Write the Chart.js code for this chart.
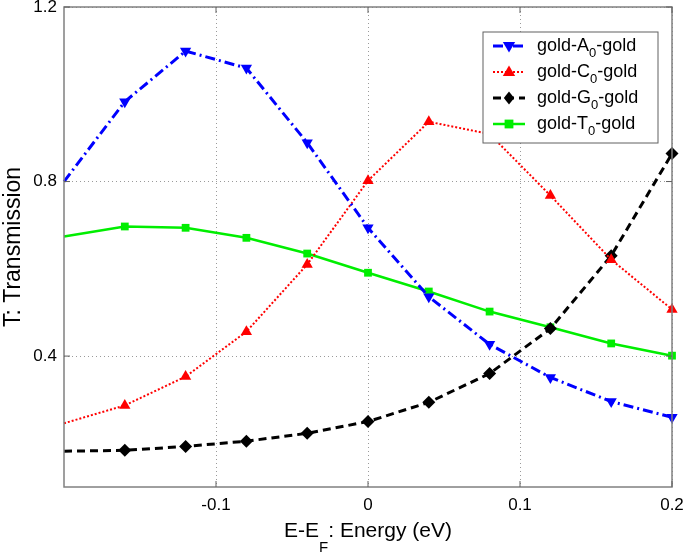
<!DOCTYPE html>
<html lang="en">
<head>
    <meta charset="UTF-8">
    <title>Transmission vs Energy</title>
    <script src="https://cdn.jsdelivr.net/npm/chart.js"></script>
    <style>
        body {
            margin: 0;
            padding: 0;
            background: #fff;
        }
        #chart {
            display: block;
        }
    </style>
</head>
<body>
    <canvas id="chart" width="685" height="554"></canvas>

    <script>
        // energy points (eV)
        const energy = [-0.2, -0.16, -0.12, -0.08, -0.04, 0, 0.04, 0.08, 0.12, 0.16, 0.2];

        const goldA0 = [0.80, 0.983, 1.099, 1.06, 0.889, 0.694, 0.536, 0.427, 0.351, 0.296, 0.26];
        const goldC0 = [0.246, 0.287, 0.353, 0.456, 0.610, 0.802, 0.937, 0.909, 0.768, 0.621, 0.507];
        const goldG0 = [0.182, 0.184, 0.193, 0.205, 0.223, 0.250, 0.294, 0.360, 0.463, 0.630, 0.864];
        const goldT0 = [0.674, 0.697, 0.694, 0.671, 0.635, 0.591, 0.548, 0.502, 0.466, 0.429, 0.401];

        const xTicks = [-0.1, 0, 0.1, 0.2];
        const yTicks = [0.4, 0.8, 1.2];

        const FONT = '"Liberation Sans", Arial, Helvetica, sans-serif';

        function pts(ys) {
            return energy.map((x, i) => ({ x: x, y: ys[i] }));
        }
        // first point has no marker
        function radii(r) {
            return energy.map((x, i) => i === 0 ? 0 : r);
        }

        const series = [
            { base: 'gold-A', label: 'gold-A0-gold', data: goldA0, color: '#0000ff', dash: [10, 4, 2, 4], width: 3, style: 'triangle', rot: 180, r: 6.5 },
            { base: 'gold-C', label: 'gold-C0-gold', data: goldC0, color: '#ff0000', dash: [2, 2], width: 2, style: 'triangle', rot: 0, r: 6.5 },
            { base: 'gold-G', label: 'gold-G0-gold', data: goldG0, color: '#000000', dash: [8, 5], width: 3, style: 'rectRot', rot: 0, r: 6.5 },
            { base: 'gold-T', label: 'gold-T0-gold', data: goldT0, color: '#00ee00', dash: [], width: 2.5, style: 'rect', rot: 0, r: 5.5 }
        ];

        function drawMarker(ctx, s, x, y, r) {
            ctx.save();
            ctx.fillStyle = s.color;
            ctx.setLineDash([]);
            ctx.beginPath();
            if (s.style === 'triangle') {
                const d = s.rot === 180 ? -1 : 1;
                ctx.moveTo(x, y - d * r);
                ctx.lineTo(x + r * 0.95, y + d * r * 0.6);
                ctx.lineTo(x - r * 0.95, y + d * r * 0.6);
            } else if (s.style === 'rectRot') {
                ctx.moveTo(x, y - r);
                ctx.lineTo(x + r * 0.8, y);
                ctx.lineTo(x, y + r);
                ctx.lineTo(x - r * 0.8, y);
            } else {
                ctx.rect(x - r * 0.8, y - r * 0.8, r * 1.6, r * 1.6);
            }
            ctx.closePath();
            ctx.fill();
            ctx.restore();
        }

        // box, inward ticks, legend and x title with subscript
        const decorPlugin = {
            id: 'decor',
            afterDraw(chart) {
                const ctx = chart.ctx;
                const a = chart.chartArea;
                const xs = chart.scales.x, ys = chart.scales.y;

                ctx.save();
                ctx.strokeStyle = '#808080';
                ctx.lineWidth = 1.5;
                ctx.setLineDash([]);
                ctx.strokeRect(a.left, a.top, a.right - a.left, a.bottom - a.top);

                ctx.lineWidth = 1;
                ctx.strokeStyle = '#606060';
                xTicks.forEach(v => {
                    const px = xs.getPixelForValue(v);
                    ctx.beginPath();
                    ctx.moveTo(px, a.bottom); ctx.lineTo(px, a.bottom - 6);
                    ctx.moveTo(px, a.top); ctx.lineTo(px, a.top + 6);
                    ctx.stroke();
                });
                yTicks.forEach(v => {
                    const py = ys.getPixelForValue(v);
                    ctx.beginPath();
                    ctx.moveTo(a.left, py); ctx.lineTo(a.left + 6, py);
                    ctx.moveTo(a.right, py); ctx.lineTo(a.right - 6, py);
                    ctx.stroke();
                });

                // legend
                const lx = 483, ly = 32, lw = 175, lh = 111;
                ctx.fillStyle = '#fff';
                ctx.fillRect(lx, ly, lw, lh);
                ctx.strokeStyle = '#606060';
                ctx.lineWidth = 1;
                ctx.strokeRect(lx, ly, lw, lh);

                series.forEach((s, i) => {
                    const y = ly + 14 + i * 26;
                    ctx.strokeStyle = s.color;
                    ctx.lineWidth = s.width;
                    ctx.setLineDash(s.dash);
                    ctx.beginPath();
                    ctx.moveTo(lx + 10, y);
                    ctx.lineTo(lx + 42, y);
                    ctx.stroke();
                    drawMarker(ctx, s, lx + 26, y, s.r);

                    ctx.fillStyle = '#000';
                    ctx.textBaseline = 'middle';
                    ctx.textAlign = 'left';
                    let tx = lx + 54;
                    ctx.font = '18px ' + FONT;
                    ctx.fillText(s.base, tx, y);
                    tx += ctx.measureText(s.base).width;
                    ctx.font = '13px ' + FONT;
                    ctx.fillText('0', tx, y + 7);
                    tx += ctx.measureText('0').width;
                    ctx.font = '18px ' + FONT;
                    ctx.fillText('-gold', tx, y);
                });

                // x title: E-E_F: Energy (eV)
                ctx.fillStyle = '#000';
                ctx.textBaseline = 'alphabetic';
                ctx.textAlign = 'left';
                ctx.font = '21px ' + FONT;
                const p1 = 'E-E', p3 = ': Energy (eV)';
                const w1 = ctx.measureText(p1).width;
                const w3 = ctx.measureText(p3).width;
                ctx.font = '15px ' + FONT;
                const w2 = ctx.measureText('F').width;
                let tx = (a.left + a.right) / 2 - (w1 + w2 + w3) / 2;
                const base = 537;
                ctx.font = '21px ' + FONT;
                ctx.fillText(p1, tx, base);
                ctx.font = '15px ' + FONT;
                ctx.fillText('F', tx + w1, base + 15);
                ctx.font = '21px ' + FONT;
                ctx.fillText(p3, tx + w1 + w2, base);
                ctx.restore();
            }
        };

        const ctx = document.getElementById('chart').getContext('2d');
        const myChart = new Chart(ctx, {
            type: 'line',
            data: {
                datasets: series.map(s => ({
                    label: s.label,
                    data: pts(s.data),
                    borderColor: s.color,
                    backgroundColor: s.color,
                    borderWidth: s.width,
                    borderDash: s.dash,
                    pointStyle: s.style,
                    pointRotation: s.rot,
                    pointRadius: radii(s.r),
                    pointBorderWidth: 0,
                    pointHoverRadius: 0,
                    tension: 0,
                    fill: false,
                    clip: false
                }))
            },
            options: {
                responsive: false,
                animation: false,
                layout: { padding: { top: 7, right: 13, left: 0, bottom: 0 } },
                plugins: {
                    legend: { display: false },
                    tooltip: { enabled: false }
                },
                scales: {
                    x: {
                        type: 'linear',
                        min: -0.2,
                        max: 0.2,
                        afterBuildTicks: scale => { scale.ticks = xTicks.map(v => ({ value: v })); },
                        afterFit: scale => {
                            scale.height = 67;
                            scale.paddingLeft = 0;
                            scale.paddingRight = 0;
                        },
                        grid: { color: '#9a9a9a', lineWidth: 1, drawTicks: false },
                        border: { display: false, dash: [1, 3] },
                        ticks: {
                            padding: 8,
                            color: '#000',
                            maxRotation: 0,
                            font: { family: FONT, size: 17 },
                            callback: v => String(v)
                        }
                    },
                    y: {
                        min: 0.1,
                        max: 1.2,
                        afterBuildTicks: scale => { scale.ticks = yTicks.map(v => ({ value: v })); },
                        afterFit: scale => {
                            scale.width = 64;
                            scale.paddingTop = 0;
                            scale.paddingBottom = 0;
                        },
                        grid: { color: '#9a9a9a', lineWidth: 1, drawTicks: false },
                        border: { display: false, dash: [1, 3] },
                        title: {
                            display: true,
                            text: 'T: Transmission',
                            color: '#000',
                            font: { family: FONT, size: 23 },
                            padding: { top: 0, bottom: 3 }
                        },
                        ticks: {
                            padding: 7,
                            color: '#000',
                            font: { family: FONT, size: 17 },
                            callback: v => v.toFixed(1)
                        }
                    }
                }
            },
            plugins: [decorPlugin]
        });
    </script>
</body>
</html>
